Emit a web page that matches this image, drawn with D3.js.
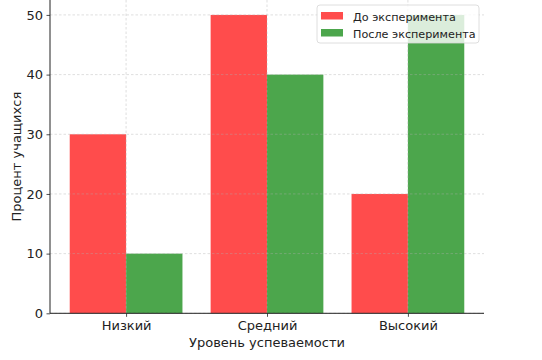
<!DOCTYPE html>
<html><head><meta charset="utf-8">
<script src="https://cdn.jsdelivr.net/npm/d3@7"></script>
<style>
html,body{margin:0;padding:0;background:#fff;}
svg{display:block;font-family:"DejaVu Sans",sans-serif;}
</style></head>
<body>
<svg id="chart" width="542" height="360"></svg>
<script>
const categories = ["Низкий", "Средний", "Высокий"];
const seriesNames = ["До эксперимента", "После эксперимента"];
const beforeValues = [30, 50, 20];
const afterValues = [10, 40, 50];
const yTicks = [0, 10, 20, 30, 40, 50];
const colors = ["#ff4c4c", "#4ca64c"];

(function () {
const svg = d3.select("#chart");
const pLeft = 50, pRight = 484, pTop = 0, pBottom = 313.3;

const x = d3.scaleLinear().domain([-0.54, 2.54]).range([pLeft, pRight]);
const y = d3.scaleLinear().domain([0, 52.5]).range([pBottom, pTop]);
const barW = 0.4;

const series = [beforeValues, afterValues];

series.forEach((vals, s) => {
  svg.append("g").selectAll("rect").data(vals).join("rect")
    .attr("x", (d, i) => x(i - barW + s * barW))
    .attr("width", (d, i) => x(i + barW) - x(i))
    .attr("y", d => y(d))
    .attr("height", d => y(0) - y(d))
    .attr("fill", colors[s]);
});

const grid = svg.append("g").attr("stroke", "#b0b0b0").attr("stroke-opacity", 0.5)
  .attr("stroke-dasharray", "2.5,2").attr("stroke-width", 0.8);
grid.selectAll("line.h").data(yTicks).join("line").attr("class", "h")
  .attr("x1", pLeft).attr("x2", pRight)
  .attr("y1", d => y(d)).attr("y2", d => y(d));
grid.selectAll("line.v").data(categories).join("line").attr("class", "v")
  .attr("x1", (d, i) => x(i)).attr("x2", (d, i) => x(i))
  .attr("y1", pTop).attr("y2", pBottom);

const xAxis = d3.axisBottom(x).tickValues(categories.map((d, i) => i))
  .tickFormat(i => categories[i]).tickSize(3.5).tickPadding(3.5);
const gx = svg.append("g").attr("transform", `translate(0,${pBottom})`).call(xAxis);
gx.select(".domain").attr("d", `M${pLeft},0H${pRight}`);
const yAxis = d3.axisLeft(y).tickValues(yTicks).tickSize(3.5).tickPadding(3.5);
const gy = svg.append("g").attr("transform", `translate(${pLeft},0)`).call(yAxis);
gy.select(".domain").attr("d", `M0,${pTop}V${pBottom}`);
[gx, gy].forEach(g => {
  g.selectAll("text").attr("font-size", 13).attr("font-family", "DejaVu Sans").attr("fill", "#222");
  g.selectAll("line").attr("stroke", "#222").attr("stroke-width", 0.8);
  g.select(".domain").attr("stroke", "#222").attr("stroke-width", 1);
});

svg.append("text").attr("x", (pLeft + pRight) / 2).attr("y", 347)
  .attr("text-anchor", "middle").attr("font-size", 13).attr("fill", "#222")
  .text("Уровень успеваемости");
svg.append("text").attr("transform", `translate(21,${(pTop + pBottom) / 2}) rotate(-90)`)
  .attr("text-anchor", "middle").attr("font-size", 13).attr("fill", "#222")
  .text("Процент учащихся");

const lg = svg.append("g").attr("transform", "translate(317,5)");
lg.append("rect").attr("width", 162).attr("height", 38).attr("rx", 3)
  .attr("fill", "#fff").attr("fill-opacity", 0.8).attr("stroke", "#d6d6d6").attr("stroke-width", 0.8);
seriesNames.forEach((n, i) => {
  lg.append("rect").attr("x", 4).attr("y", 7 + i * 17).attr("width", 22).attr("height", 7.5)
    .attr("fill", colors[i]);
  lg.append("text").attr("x", 36).attr("y", 15.5 + i * 17).attr("font-size", 11.2)
    .attr("fill", "#222").text(n);
});
})();
</script>
</body></html>
